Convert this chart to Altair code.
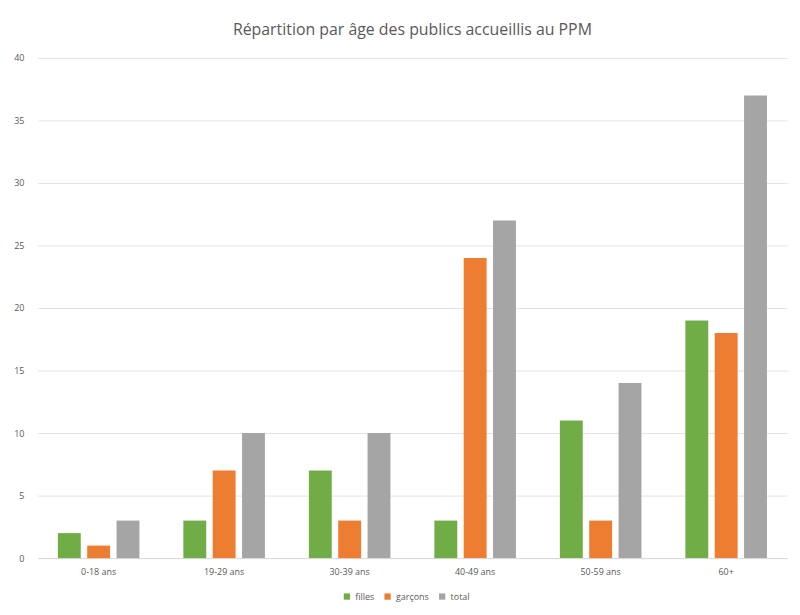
import altair as alt
import pandas as pd

categories = ["0-18 ans", "19-29 ans", "30-39 ans", "40-49 ans", "50-59 ans", "60+"]
filles = [2, 3, 7, 3, 11, 19]
garcons = [1, 7, 3, 24, 3, 18]
total = [3, 10, 10, 27, 14, 37]
series = ["filles", "garçons", "total"]
colors = ["#70AD47", "#ED7D31", "#A5A5A5"]

rows = []
for i, c in enumerate(categories):
    for s, vals in zip(series, [filles, garcons, total]):
        rows.append({"age": c, "serie": s, "valeur": vals[i]})
df = pd.DataFrame(rows)

font = "Open Sans"

chart = alt.Chart(df).mark_bar().encode(
    x=alt.X("age:N", sort=categories, title=None,
            scale=alt.Scale(paddingInner=0.35, paddingOuter=0.16),
            axis=alt.Axis(labelAngle=0, ticks=False, domainColor="#D9D9D9",
                          labelColor="#595959", labelFontSize=9, labelFont=font,
                          labelPadding=10)),
    xOffset=alt.XOffset("serie:N", sort=series, scale=alt.Scale(paddingInner=0.22)),
    y=alt.Y("valeur:Q", title=None,
            scale=alt.Scale(domain=[0, 40]),
            axis=alt.Axis(values=[0, 5, 10, 15, 20, 25, 30, 35, 40], ticks=False, domain=False,
                          gridColor="#E3E3E3", labelColor="#595959", labelFontSize=9,
                          labelFont=font, labelPadding=14)),
    color=alt.Color("serie:N", sort=series,
                    scale=alt.Scale(domain=series, range=colors),
                    legend=alt.Legend(title=None, orient="none", direction="horizontal",
                                      legendX=307, legendY=538, symbolType="square",
                                      symbolSize=40, labelFontSize=9, labelFont=font,
                                      labelColor="#595959", columnPadding=8,
                                      symbolStrokeWidth=0)),
).properties(
    width=755,
    height=504,
    title=alt.TitleParams("Répartition par âge des publics accueillis au PPM",
                          font=font, fontSize=16, fontWeight="normal", color="#595959",
                          anchor="middle", offset=16),
    autosize=alt.AutoSizeParams(type="none"),
    padding={"left": 30, "top": 48, "right": 5, "bottom": 50},
).configure_view(stroke=None)

chart.save("out.html", embed_options={"renderer": "svg", "actions": False})
